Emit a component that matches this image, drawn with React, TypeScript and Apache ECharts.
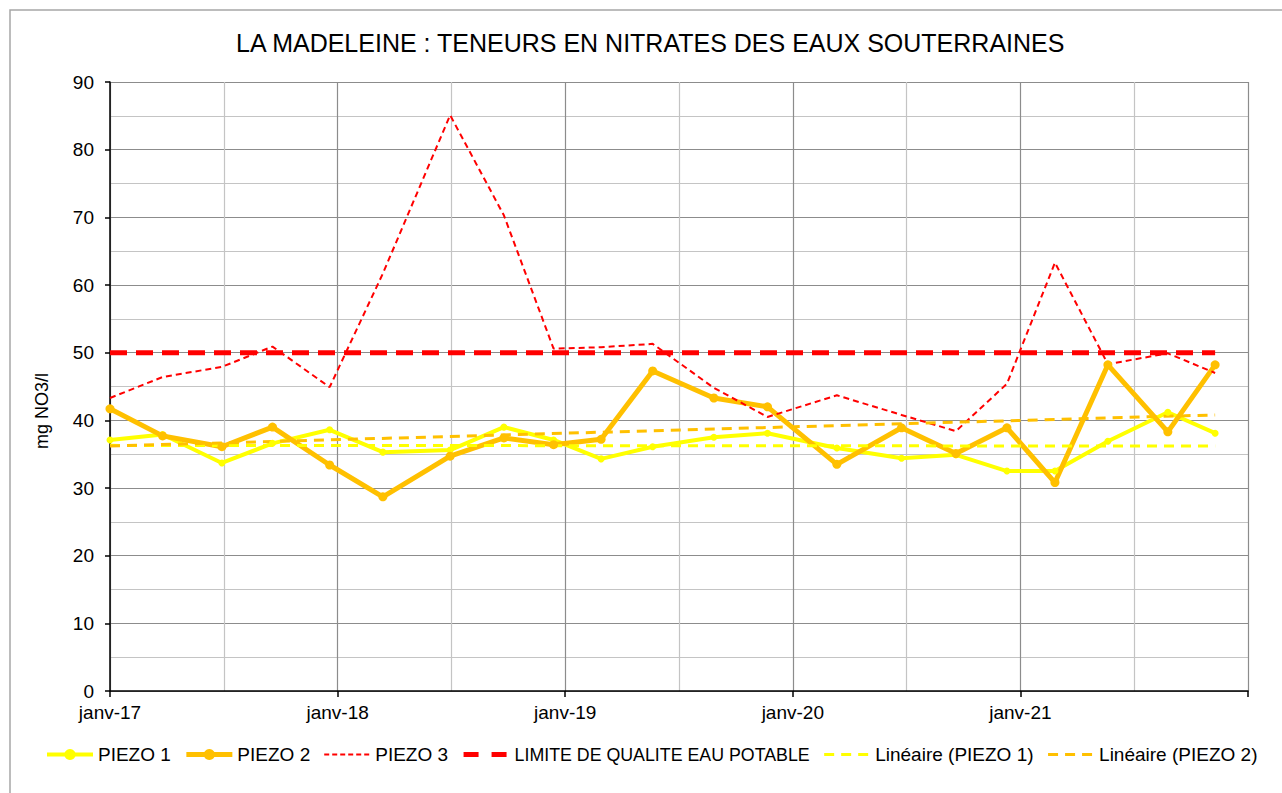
import { useEffect, useRef } from "react";
import * as echarts from "echarts";

const startYear = 2017;
const dates = [
  "2017-01-01", "2017-03-25", "2017-06-28", "2017-09-18", "2017-12-19",
  "2018-03-13", "2018-06-29", "2018-09-24", "2018-12-13", "2019-02-26",
  "2019-05-20", "2019-08-27", "2019-11-21", "2020-03-11", "2020-06-23",
  "2020-09-19", "2020-12-10", "2021-02-24", "2021-05-20", "2021-08-25",
  "2021-11-09",
];
const piezo1 = [37.1, 37.9, 33.7, 36.6, 38.6, 35.3, 35.6, 39.0, 37.1, 34.3, 36.1, 37.5, 38.1, 35.9, 34.4, 34.9, 32.5, 32.5, 36.9, 41.2, 38.1];
const piezo2 = [41.7, 37.7, 36.1, 39.0, 33.4, 28.7, 34.7, 37.4, 36.4, 37.2, 47.3, 43.3, 42.0, 33.5, 38.9, 35.1, 38.9, 30.8, 48.2, 38.3, 48.2];
const piezo3 = [43.3, 46.4, 47.9, 50.9, 44.9, 61.7, 85.1, 70.3, 50.6, 50.8, 51.3, 44.8, 40.5, 43.7, 40.8, 38.4, 45.4, 63.3, 48.3, 49.9, 47.0];
const limite = [50, 50];
const trend1 = [36.3, 36.2];
const trend2 = [36.2, 40.8];
const xLabels = ["janv-17", "janv-18", "janv-19", "janv-20", "janv-21"];
const seriesNames = [
  "PIEZO 1",
  "PIEZO 2",
  "PIEZO 3",
  "LIMITE DE QUALITE EAU POTABLE",
  "Linéaire (PIEZO 1)",
  "Linéaire (PIEZO 2)",
];

function toMonths(d: string) {
  const [y, m, day] = d.split("-").map(Number);
  const dim = new Date(y, m, 0).getDate();
  return (y - startYear) * 12 + (m - 1) + (day - 1) / dim;
}

const FONT = "'Liberation Sans', Arial, sans-serif";
const YELLOW = "#ffff00";
const ORANGE = "#ffc000";
const RED = "#ff0000";

export default function App() {
  const ref = useRef<HTMLDivElement>(null);
  useEffect(() => {
    if (!ref.current) return;
    const chart = echarts.init(ref.current, undefined, { renderer: "svg" });
    const xs = dates.map(toMonths);
    const first = xs[0];
    const last = xs[xs.length - 1];
    const pairs = (vals: number[]) => xs.map((x, i) => [x, vals[i]]);
    const ends = (vals: number[]) => [[first, vals[0]], [last, vals[1]]];

    const lineStyles: any[] = [
      { color: YELLOW, width: 4, type: "solid" },
      { color: ORANGE, width: 5, type: "solid" },
      { color: RED, width: 2, type: [6, 4] },
      { color: RED, width: 5, type: [17, 9] },
      { color: YELLOW, width: 3, type: [10, 7] },
      { color: ORANGE, width: 3, type: [10, 7] },
    ];
    const legendLineStyles: any[] = [
      lineStyles[0],
      lineStyles[1],
      { color: RED, width: 2, type: [5, 3] },
      { color: RED, width: 5, type: [15, 13] },
      lineStyles[4],
      lineStyles[5],
    ];

    chart.setOption({
      animation: false,
      textStyle: { fontFamily: FONT, color: "#000" },
      title: {
        text: "LA MADELEINE : TENEURS EN NITRATES DES EAUX SOUTERRAINES",
        left: 236,
        top: 30,
        padding: 0,
        textStyle: { fontFamily: FONT, fontSize: 25, fontWeight: "normal", color: "#000" },
      },
      graphic: [
        {
          type: "rect",
          shape: { x: 10, y: 10, width: 1400, height: 900 },
          style: { fill: "none", stroke: "#a6a6a6", lineWidth: 1.5 },
          silent: true,
        },
        {
          type: "text",
          x: 42,
          y: 411,
          rotation: Math.PI / 2,
          style: {
            text: "mg NO3/l",
            fontFamily: FONT,
            fontSize: 18,
            fill: "#000",
            align: "center",
            verticalAlign: "middle",
          },
        },
      ],
      legend: {
        left: 45,
        top: 745,
        itemWidth: 46,
        itemHeight: 14,
        itemGap: 13,
        padding: 0,
        textStyle: { fontFamily: FONT, fontSize: 19, color: "#000" },
        data: seriesNames.map((n, i) => {
          const item: any = { name: n, lineStyle: legendLineStyles[i] };
          if (i >= 2) item.itemStyle = { opacity: 0 };
          if (i === 3) item.textStyle = { fontSize: 17.8 };
          return item;
        }),
      },
      grid: { left: 110, right: 34, top: 82, bottom: 102 },
      xAxis: {
        type: "value",
        min: 0,
        max: 60,
        interval: 12,
        axisLine: { show: true, onZero: false, lineStyle: { color: "#000", width: 1.5 } },
        axisTick: { show: true, length: 6, lineStyle: { color: "#000", width: 1.5 } },
        axisLabel: {
          margin: 12,
          fontSize: 19,
          fontFamily: FONT,
          color: "#000",
          formatter: (v: number) => (v % 12 === 0 ? xLabels[v / 12] ?? "" : ""),
        },
        splitLine: { show: true, lineStyle: { color: "#8c8c8c", width: 1.2 } },
        minorTick: { show: false, splitNumber: 2 },
        minorSplitLine: { show: true, lineStyle: { color: "#c4c4c4", width: 1.2 } },
      },
      yAxis: {
        type: "value",
        min: 0,
        max: 90,
        interval: 10,
        axisLine: { show: true, lineStyle: { color: "#000", width: 1.5 } },
        axisTick: { show: true, length: 5, lineStyle: { color: "#000", width: 1.5 } },
        axisLabel: { margin: 16, fontSize: 19, fontFamily: FONT, color: "#000" },
        splitLine: { show: true, lineStyle: { color: "#8c8c8c", width: 1.2 } },
        minorTick: { show: false, splitNumber: 2 },
        minorSplitLine: { show: true, lineStyle: { color: "#c4c4c4", width: 1.2 } },
      },
      series: [
        {
          name: seriesNames[0],
          type: "line",
          data: pairs(piezo1),
          symbol: "circle",
          symbolSize: 7,
          itemStyle: { color: YELLOW },
          lineStyle: lineStyles[0],
          emphasis: { disabled: true },
        },
        {
          name: seriesNames[1],
          type: "line",
          data: pairs(piezo2),
          symbol: "circle",
          symbolSize: 9,
          itemStyle: { color: ORANGE },
          lineStyle: lineStyles[1],
          emphasis: { disabled: true },
        },
        {
          name: seriesNames[2],
          type: "line",
          data: pairs(piezo3),
          symbol: "none",
          itemStyle: { color: RED },
          lineStyle: lineStyles[2],
          emphasis: { disabled: true },
        },
        {
          name: seriesNames[3],
          type: "line",
          data: ends(limite),
          symbol: "none",
          itemStyle: { color: RED },
          lineStyle: lineStyles[3],
          emphasis: { disabled: true },
        },
        {
          name: seriesNames[4],
          type: "line",
          data: ends(trend1),
          symbol: "none",
          itemStyle: { color: YELLOW },
          lineStyle: lineStyles[4],
          emphasis: { disabled: true },
        },
        {
          name: seriesNames[5],
          type: "line",
          data: ends(trend2),
          symbol: "none",
          itemStyle: { color: ORANGE },
          lineStyle: lineStyles[5],
          emphasis: { disabled: true },
        },
      ],
    });
    return () => chart.dispose();
  }, []);
  return (
    <div
      ref={ref}
      style={{ position: "fixed", left: 0, top: 0, width: 1282, height: 793, background: "#fff" }}
    />
  );
}
